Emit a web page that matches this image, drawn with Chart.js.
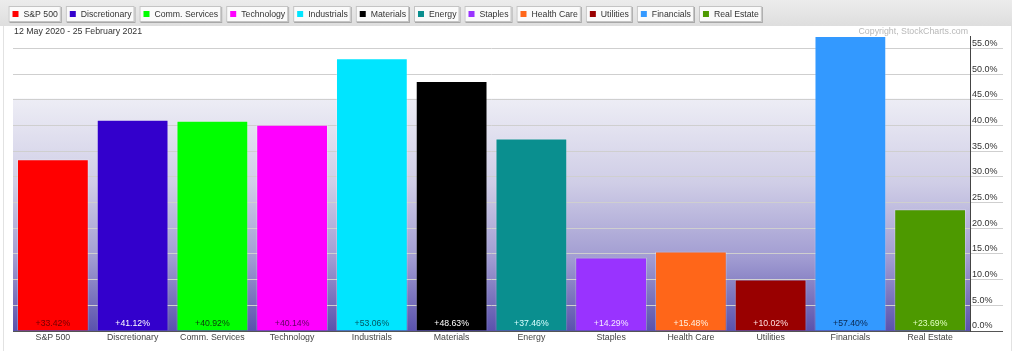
<!DOCTYPE html>
<html>
<head>
<meta charset="utf-8">
<script src="https://cdn.jsdelivr.net/npm/chart.js@4/dist/chart.umd.min.js"></script>
<style>
html,body{margin:0;padding:0;background:#fff;}
#wrap{position:relative;width:1024px;height:351px;}
</style>
</head>
<body>
<div id="wrap"><canvas id="c" width="1024" height="351"></canvas></div>
<script>
const categories = ['S&P 500','Discretionary','Comm. Services','Technology','Industrials','Materials','Energy','Staples','Health Care','Utilities','Financials','Real Estate'];
const values = [33.42, 41.12, 40.92, 40.14, 53.06, 48.63, 37.46, 14.29, 15.48, 10.02, 57.40, 23.69];
const barColors = ['#ff0000','#3300cc','#00ff00','#ff00ff','#00e5ff','#000000','#0a8f8f','#9933ff','#ff6619','#990000','#3399ff','#4d9900'];
const valueLabelColors = ['#700000','#ffffff','#0a400a','#600060','#005560','#ffffff','#d8ffff','#f4e8ff','#fff0e0','#ffe0e0','#0a2850','#e0ffc0'];
const yTickValues = [0,5,10,15,20,25,30,35,40,45,50,55];
const dateRange = '12 May 2020 - 25 February 2021';
const copyright = 'Copyright, StockCharts.com';

const FONT = '"Liberation Sans", Arial, sans-serif';

const decor = {
  id: 'decor',
  beforeDraw(chart) {
    const ctx = chart.ctx;
    const a = chart.chartArea;
    ctx.save();
    ctx.fillStyle = '#ffffff';
    ctx.fillRect(0, 0, 1024, 351);
    ctx.strokeStyle = '#e2e2e2';
    ctx.lineWidth = 1;
    ctx.beginPath();
    ctx.moveTo(3.5, 0); ctx.lineTo(3.5, 351);
    ctx.moveTo(1011.5, 0); ctx.lineTo(1011.5, 351);
    ctx.stroke();
    // legend band
    const bg = ctx.createLinearGradient(0, 0, 0, 26);
    bg.addColorStop(0, '#ececec');
    bg.addColorStop(1, '#dedede');
    ctx.fillStyle = bg;
    ctx.fillRect(0, 0, 1012, 26);
    // legend buttons
    ctx.font = '8.7px ' + FONT;
    ctx.textBaseline = 'middle';
    let x = 8.5;
    categories.forEach((name, i) => {
      const tw = ctx.measureText(name).width;
      const w = 15 + tw + 3;
      ctx.fillStyle = '#a8a8a8';
      ctx.fillRect(x + 1, 7, w, 16);
      ctx.fillStyle = '#fafafa';
      ctx.fillRect(x, 6, w, 16);
      ctx.strokeStyle = '#c4c4c4';
      ctx.strokeRect(x + 0.5, 6.5, w - 1, 15);
      ctx.fillStyle = barColors[i];
      ctx.fillRect(x + 4, 11, 6, 6);
      ctx.fillStyle = '#333';
      ctx.textAlign = 'left';
      ctx.fillText(name, x + 15, 14.5);
      x += w + 5;
    });
    // date and copyright
    ctx.font = '8.8px ' + FONT;
    ctx.fillStyle = '#333';
    ctx.textAlign = 'left';
    ctx.fillText(dateRange, 14, 31.5);
    ctx.fillStyle = '#b8b8b8';
    ctx.textAlign = 'right';
    ctx.fillText(copyright, 968, 31.5);
    // plot background gradient
    const g = ctx.createLinearGradient(0, a.top, 0, a.bottom);
    g.addColorStop(0, '#ffffff');
    g.addColorStop(0.21, '#ffffff');
    g.addColorStop(0.215, '#ededf5');
    g.addColorStop(0.5, '#cfcde6');
    g.addColorStop(0.75, '#a29dd2');
    g.addColorStop(1, '#5a52ac');
    ctx.fillStyle = g;
    ctx.fillRect(a.left, a.top, a.right - a.left, a.bottom - a.top);
    ctx.restore();
  },
  afterDatasetsDraw(chart) {
    const ctx = chart.ctx;
    const meta = chart.getDatasetMeta(0);
    ctx.save();
    ctx.font = '8.7px ' + FONT;
    ctx.textAlign = 'center';
    ctx.textBaseline = 'middle';
    meta.data.forEach((bar, i) => {
      const v = values[i];
      ctx.fillStyle = valueLabelColors[i];
      ctx.fillText((v >= 0 ? '+' : '') + v.toFixed(2) + '%', bar.x, chart.chartArea.bottom - 7);
    });
    ctx.restore();
  }
};

new Chart(document.getElementById('c'), {
  type: 'bar',
  data: {
    labels: categories,
    datasets: [{
      data: values,
      backgroundColor: barColors,
      borderColor: 'rgba(255,255,255,0.25)',
      borderWidth: 1,
      borderSkipped: 'bottom',
      barPercentage: 0.9,
      categoryPercentage: 1.0
    }]
  },
  options: {
    responsive: false,
    animation: false,
    devicePixelRatio: 1,
    layout: { padding: { left: 13, top: 36, right: 14, bottom: 0 } },
    plugins: { legend: { display: false }, tooltip: { enabled: false } },
    scales: {
      x: {
        grid: { display: false, drawTicks: false, tickLength: 0 },
        border: { display: true, color: '#555', width: 1 },
        ticks: { color: '#444', font: { family: FONT, size: 8.8 }, padding: 1, maxRotation: 0, autoSkip: false },
        afterFit(s) { s.height = 20; }
      },
      y: {
        position: 'right',
        min: 0,
        max: 57.4,
        afterBuildTicks(s) { s.ticks = yTickValues.map(v => ({ value: v })); },
        grid: {
          color: (c) => c.tick && c.tick.value === 0 ? '#555' : '#cfcfcf',
          lineWidth: 1,
          tickLength: 33,
          drawTicks: true
        },
        border: { display: true, color: '#444', width: 1 },
        ticks: {
          color: '#333',
          font: { family: FONT, size: 9 },
          padding: -31,
          labelOffset: -5,
          callback: (v) => Number(v).toFixed(1) + '%'
        },
        afterFit(s) { s.width = 40; }
      }
    }
  },
  plugins: [decor]
});
</script>
</body>
</html>
